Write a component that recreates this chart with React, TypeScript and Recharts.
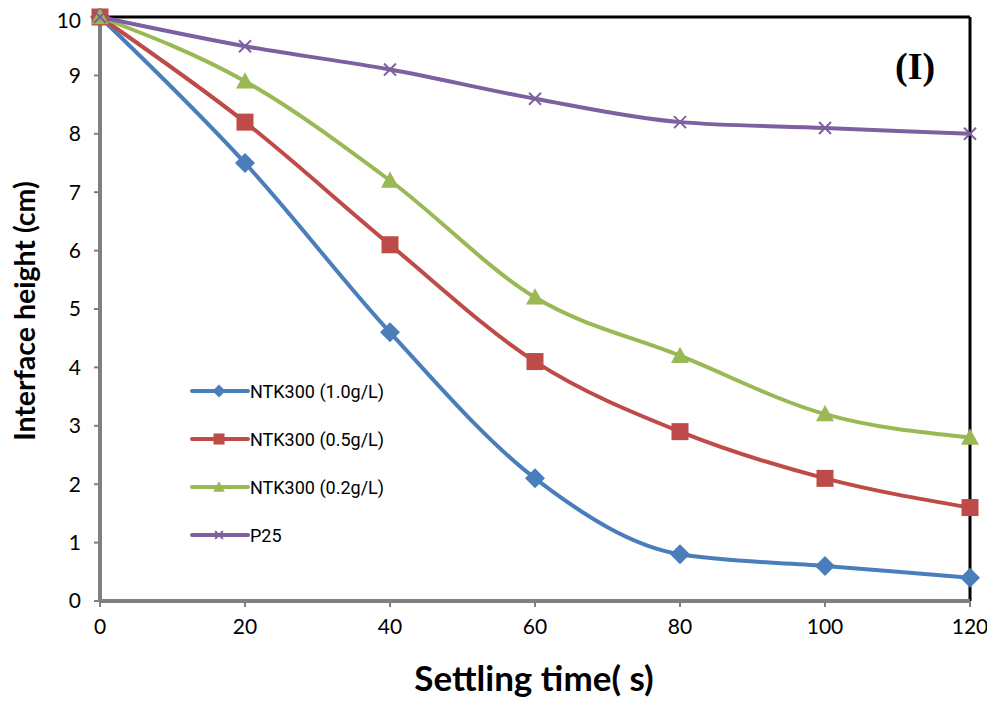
import React from 'react';
import { LineChart, Line, XAxis, YAxis, ReferenceLine } from 'recharts';

const times = [0, 20, 40, 60, 80, 100, 120];
const ntk10 = [10, 7.5, 4.6, 2.1, 0.8, 0.6, 0.4];
const ntk05 = [10, 8.2, 6.1, 4.1, 2.9, 2.1, 1.6];
const ntk02 = [10, 8.9, 7.2, 5.2, 4.2, 3.2, 2.8];
const p25 = [10, 9.5, 9.1, 8.6, 8.2, 8.1, 8.0];
const xTicks = [0, 20, 40, 60, 80, 100, 120];
const yTicks = [0, 1, 2, 3, 4, 5, 6, 7, 8, 9, 10];

const seriesNames = ['NTK300 (1.0g/L)', 'NTK300 (0.5g/L)', 'NTK300 (0.2g/L)', 'P25'];
const colors = ['#4A7EBB', '#BE4B48', '#98B954', '#7D60A0'];
const shapes = ['diamond', 'square', 'triangle', 'cross'];

const data = times.map((t, i) => ({ t, a: ntk10[i], b: ntk05[i], c: ntk02[i], d: p25[i] }));

function Marker({ cx, cy, shape, color, s = 1 }: any) {
  if (cx == null || cy == null) return null;
  if (shape === 'diamond') {
    const r = 10 * s;
    return <polygon points={`${cx},${cy - r} ${cx + r},${cy} ${cx},${cy + r} ${cx - r},${cy}`} fill={color} />;
  }
  if (shape === 'square') {
    const r = 8.5 * s;
    return <rect x={cx - r} y={cy - r} width={2 * r} height={2 * r} fill={color} />;
  }
  if (shape === 'triangle') {
    const r = 9 * s;
    return <polygon points={`${cx},${cy - r} ${cx + r},${cy + r * 0.8} ${cx - r},${cy + r * 0.8}`} fill={color} />;
  }
  const r = 6 * s;
  return (
    <g stroke={color} strokeWidth={2}>
      <line x1={cx - r} y1={cy - r} x2={cx + r} y2={cy + r} />
      <line x1={cx - r} y1={cy + r} x2={cx + r} y2={cy - r} />
    </g>
  );
}

function LegendBox() {
  return (
    <div style={{ position: 'absolute', left: 180, top: 359, fontFamily: 'Roboto, "Liberation Sans", sans-serif', fontSize: 18, color: '#000' }}>
      {seriesNames.map((n, i) => (
        <div key={n} style={{ display: 'flex', alignItems: 'center', height: 48 }}>
          <svg width={62} height={20}>
            <line x1={4} y1={10} x2={60} y2={10} stroke={colors[i]} strokeWidth={4} strokeLinecap="round" />
            <Marker cx={31} cy={10} shape={shapes[i]} color={colors[i]} s={0.65} />
          </svg>
          <span>{n}</span>
        </div>
      ))}
    </div>
  );
}

const keys = ['a', 'b', 'c', 'd'];
const FONT = 'Lato, "Open Sans", sans-serif';

export default function App() {
  return (
    <div style={{ position: 'relative', width: 987, height: 698 }}>
      <LineChart width={987} height={698} data={data} margin={{ top: 9, right: 25, bottom: 0, left: 0 }}>
        <XAxis
          dataKey="t"
          type="number"
          domain={[0, 120]}
          ticks={xTicks}
          height={105}
          tickSize={6}
          tickMargin={12}
          axisLine={{ stroke: '#808080', strokeWidth: 4 }}
          tickLine={{ stroke: '#808080', strokeWidth: 2 }}
          tick={{ fill: '#000', fontSize: 21, fontFamily: FONT }}
          label={() => (
            <text x={526} y={683} textAnchor="middle" fontSize={35} fontWeight="bold" fontFamily={FONT} fill="#000">
              Settling time( s)
            </text>
          )}
        />
        <YAxis
          type="number"
          domain={[0, 10]}
          ticks={yTicks}
          width={92}
          tickSize={6}
          tickMargin={13}
          axisLine={{ stroke: '#808080', strokeWidth: 4 }}
          tickLine={{ stroke: '#808080', strokeWidth: 2 }}
          tick={{ fill: '#000', fontSize: 21, fontFamily: FONT }}
          label={() => (
            <text x={20} y={303} transform="rotate(-90, 20, 303)" textAnchor="middle" dominantBaseline="middle" fontSize={28.5} fontWeight="bold" fontFamily={FONT} fill="#000">
              Interface height (cm)
            </text>
          )}
        />
        <ReferenceLine x={0} stroke="#000" strokeWidth={1.5} />
        <ReferenceLine y={0} stroke="#000" strokeWidth={1.5} />
        <ReferenceLine y={10} stroke="#000" strokeWidth={3} />
        <ReferenceLine x={120} stroke="#000" strokeWidth={3} />
        {keys.map((k, i) => (
          <Line
            key={k}
            dataKey={k}
            name={seriesNames[i]}
            type="monotone"
            stroke={colors[i]}
            strokeWidth={4}
            isAnimationActive={false}
            dot={(p: any) => <Marker key={`${k}-${p.index}`} cx={p.cx} cy={p.cy} shape={shapes[i]} color={colors[i]} />}
            activeDot={false}
          />
        ))}
      </LineChart>
      <LegendBox />
      <div style={{ position: 'absolute', left: 887, top: 36, fontFamily: '"Liberation Serif", "DejaVu Serif", serif', fontWeight: 'bold', fontSize: 38, color: '#000' }}>
        (I)
      </div>
    </div>
  );
}
